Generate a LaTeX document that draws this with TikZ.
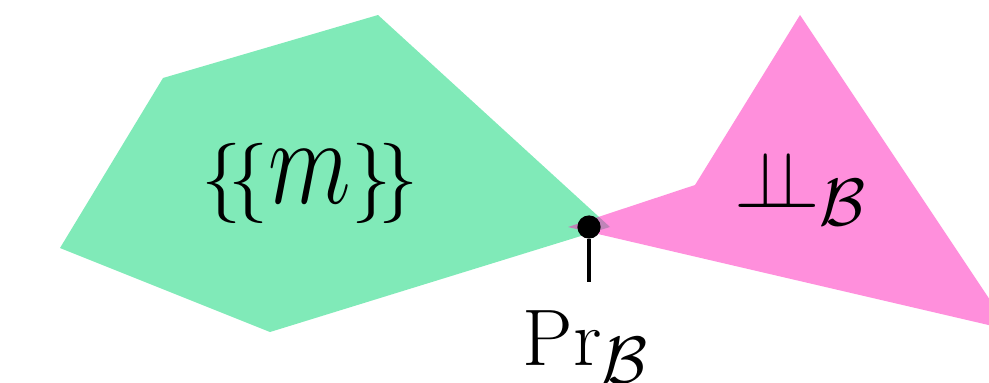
\documentclass[tikz,border=0pt]{standalone}
\usepackage{tikz}
\usetikzlibrary{positioning}
\definecolor{RegionGreen}{HTML}{01D571}
\definecolor{RegionPink}{HTML}{FF1FB9}

\begin{document}
\begin{tikzpicture}[
  x=0.31pt, y=-0.31pt,
  region/.style={fill opacity=0.5, draw=none},
  lbl/.style={anchor=base, inner sep=0pt, font=\Huge},
  pin/.style={line width=1.1pt}
]
  \useasboundingbox (0,0) rectangle (989,382);
  \clip (0,0) rectangle (989,382);

  \fill[region, fill=RegionGreen] (60,248) -- (163,78) -- (378,15) -- (610,227) -- (270,332) -- cycle;
  \fill[region, fill=RegionPink] (568,227) -- (695,185) -- (800,15) -- (1010,330) -- cycle;

  \node[lbl] (msg) at (310,203) {$\{\!\{\scalebox{1.2}[1.55]{$m$}\}\!\}$};
  \node[lbl] (indep) at (801,207) {$\perp\!\!\!\perp_{\mathcal{B}}$};

  \node[circle, fill=black, inner sep=0pt, minimum size=7.2pt] (pt) at (589,227) {};
  \coordinate (stem) at (589,282);
  \draw[pin] (pt) -- (stem);
  \node[lbl] (proj) at (586,365) {$\mathrm{Pr}_{\mathcal{B}}$};
\end{tikzpicture}
\end{document}
